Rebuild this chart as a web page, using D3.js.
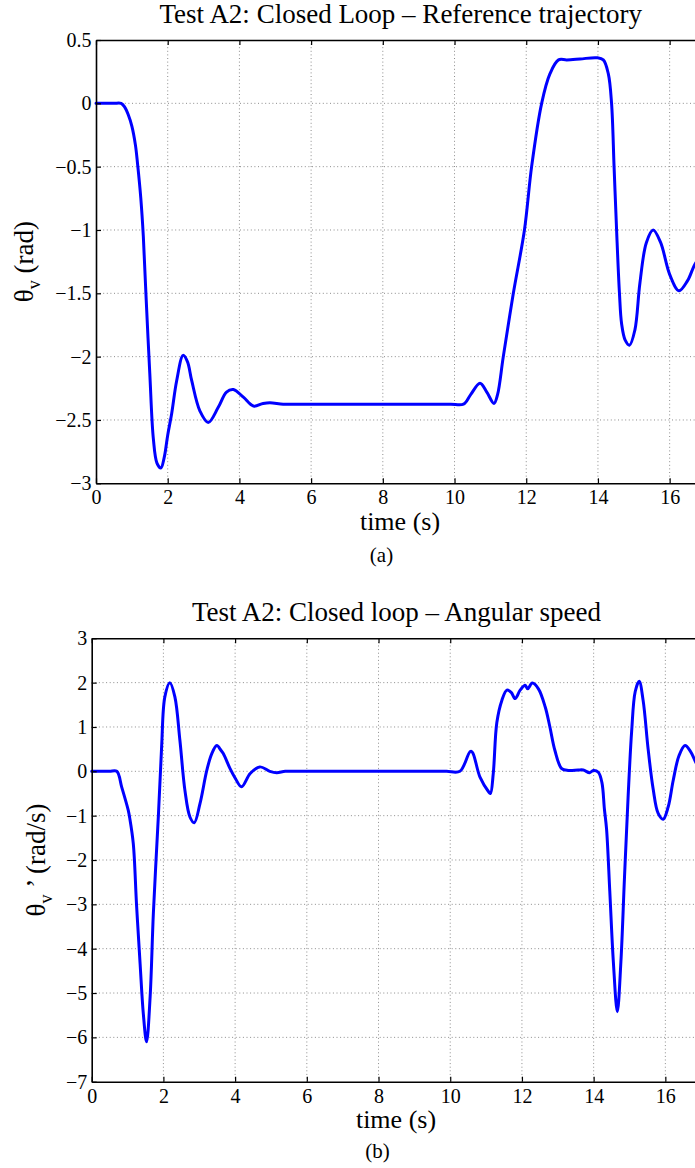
<!DOCTYPE html>
<html>
<head>
<meta charset="utf-8">
<script src="https://cdn.jsdelivr.net/npm/d3@7"></script>
<style>
  html, body { margin: 0; padding: 0; background: #fff; }
  svg { display: block; }
  svg text { font-family: 'Liberation Serif', 'Times New Roman', Times, serif !important; fill: #000; }
</style>
</head>
<body>
<svg id="chart" width="695" height="1168"></svg>
<script>
// ---------- data ----------
const xTicks = [0, 2, 4, 6, 8, 10, 12, 14, 16];
const xDomain = [0, 17];

const titleA = "Test A2: Closed Loop \u2013 Reference trajectory";
const titleB = "Test A2: Closed loop \u2013 Angular speed";
const xLabel = "time (s)";
const captionA = "(a)";
const captionB = "(b)";

const yTicksA = [0.5, 0, -0.5, -1, -1.5, -2, -2.5, -3];
const yDomainA = [-3, 0.5];
const yTicksB = [3, 2, 1, 0, -1, -2, -3, -4, -5, -6, -7];
const yDomainB = [-7, 3];

// Panel (a): reference trajectory theta_v (rad)
const timeA = [0, 0.25, 0.5, 0.7, 0.8, 0.9, 1.0, 1.1, 1.16, 1.25, 1.32, 1.4, 1.5, 1.6, 1.7, 1.81, 1.9, 2.0, 2.11, 2.25, 2.43, 2.55, 2.67, 2.9, 3.13, 3.41, 3.64, 3.83, 4.11, 4.39, 4.66, 4.85, 5.22, 5.6, 6, 6.5, 7, 7.5, 8, 8.5, 9, 9.5, 9.9, 10.25, 10.45, 10.71, 10.9, 11.1, 11.2, 11.36, 11.64, 11.95, 12.15, 12.43, 12.66, 12.9, 13.13, 13.5, 13.97, 14.15, 14.29, 14.38, 14.45, 14.52, 14.6, 14.66, 14.76, 14.88, 15.03, 15.17, 15.35, 15.54, 15.75, 16.0, 16.26, 16.5, 16.75, 17.0];
const thetaA = [0, 0, 0, 0, -0.03, -0.09, -0.18, -0.33, -0.48, -0.75, -1.05, -1.55, -2.13, -2.65, -2.84, -2.88, -2.8, -2.62, -2.45, -2.19, -1.99, -2.04, -2.19, -2.43, -2.52, -2.4, -2.28, -2.26, -2.32, -2.39, -2.37, -2.364, -2.375, -2.375, -2.375, -2.375, -2.375, -2.375, -2.375, -2.375, -2.375, -2.375, -2.375, -2.375, -2.3, -2.21, -2.28, -2.37, -2.3, -2.0, -1.5, -1.0, -0.5, 0, 0.232, 0.343, 0.343, 0.35, 0.36, 0.343, 0.232, 0, -0.5, -1.0, -1.5, -1.74, -1.87, -1.91, -1.79, -1.42, -1.1, -1.0, -1.1, -1.35, -1.48, -1.4, -1.25, -1.2];

// Panel (b): angular speed theta_v' (rad/s)
const timeB = [0, 0.25, 0.5, 0.7, 0.835, 1.02, 1.06, 1.16, 1.25, 1.35, 1.44, 1.53, 1.63, 1.72, 1.86, 1.95, 2.04, 2.18, 2.32, 2.46, 2.6, 2.74, 2.86, 3.02, 3.21, 3.35, 3.49, 3.6, 3.67, 3.86, 4.0, 4.18, 4.42, 4.69, 4.97, 5.16, 5.4, 5.8, 6.2, 6.6, 7, 7.5, 8, 8.5, 9, 9.5, 9.9, 10.27, 10.58, 10.83, 11.06, 11.12, 11.2, 11.3, 11.44, 11.58, 11.7, 11.81, 11.95, 12.09, 12.16, 12.29, 12.46, 12.65, 12.78, 12.92, 13.11, 13.3, 13.57, 13.71, 13.89, 13.99, 14.13, 14.23, 14.3, 14.36, 14.45, 14.55, 14.66, 14.76, 14.86, 14.96, 15.06, 15.16, 15.27, 15.38, 15.52, 15.66, 15.8, 15.94, 16.08, 16.22, 16.38, 16.55, 16.7, 16.85, 17.0];
const omegaB = [0, 0, 0, 0, -0.35, -0.88, -1.05, -1.63, -3.0, -4.34, -5.47, -6.1, -5.08, -3.2, -1.0, 0.55, 1.68, 2.0, 1.68, 0.7, -0.43, -1.03, -1.16, -0.73, 0.02, 0.4, 0.58, 0.48, 0.4, 0.06, -0.15, -0.35, -0.05, 0.1, 0, -0.03, 0, 0, 0, 0, 0, 0, 0, 0, 0, 0, 0, 0, 0.45, -0.13, -0.45, -0.5, -0.05, 1.1, 1.6, 1.83, 1.78, 1.64, 1.83, 1.94, 1.86, 1.99, 1.86, 1.45, 1.0, 0.47, 0.06, 0.02, 0.03, 0.03, -0.03, 0.02, -0.02, -0.25, -0.85, -1.3, -2.7, -4.3, -5.42, -4.3, -2.4, -0.6, 0.9, 1.8, 2.03, 1.6, 0.5, -0.4, -0.95, -1.08, -0.8, -0.2, 0.35, 0.58, 0.45, 0.2, -0.05];

// ---------- drawing ----------
const svg = d3.select("#chart");
const FONT = "'Liberation Serif', 'Times New Roman', Times, serif";
const fmt = d => (d < 0 ? "\u2212" : "") + String(Math.abs(d));

function panel(cfg) {
  const g = svg.append("g").attr("transform", `translate(${cfg.left},${cfg.top})`);
  const w = cfg.width, h = cfg.height;
  const x = d3.scaleLinear().domain(xDomain).range([0, w]);
  const y = d3.scaleLinear().domain(cfg.yDomain).range([h, 0]);

  // grid
  const grid = g.append("g").attr("stroke", "#8c8c8c").attr("stroke-width", 1)
    .attr("stroke-dasharray", "1,2.6");
  grid.selectAll(".gx").data(xTicks.filter(d => d > xDomain[0] && d < xDomain[1]))
    .enter().append("line")
    .attr("x1", d => x(d)).attr("x2", d => x(d)).attr("y1", 0).attr("y2", h);
  grid.selectAll(".gy").data(cfg.yTicks.filter(d => d > cfg.yDomain[0] && d < cfg.yDomain[1]))
    .enter().append("line")
    .attr("y1", d => y(d)).attr("y2", d => y(d)).attr("x1", 0).attr("x2", w);

  // data line
  const pts = cfg.t.map((t, i) => [t, cfg.v[i]]);
  g.append("path").datum(pts)
    .attr("fill", "none").attr("stroke", "#0000ff").attr("stroke-width", 3)
    .attr("stroke-linejoin", "round").attr("stroke-linecap", "round")
    .attr("d", d3.line().x(d => x(d[0])).y(d => y(d[1])).curve(d3.curveCatmullRom.alpha(0.5)));

  // axes
  const xa = g.append("g").attr("transform", `translate(0,${h})`)
    .call(d3.axisBottom(x).tickValues(xTicks).tickFormat(fmt).tickSize(-5).tickPadding(7).tickSizeOuter(0));
  const xt = g.append("g")
    .call(d3.axisTop(x).tickValues(xTicks).tickFormat("").tickSize(-5).tickSizeOuter(0));
  const ya = g.append("g")
    .call(d3.axisLeft(y).tickValues(cfg.yTicks).tickFormat(fmt).tickSize(-5).tickPadding(4.5).tickSizeOuter(0));
  const yr = g.append("g").attr("transform", `translate(${w},0)`)
    .call(d3.axisRight(y).tickValues(cfg.yTicks).tickFormat("").tickSize(-5).tickSizeOuter(0));
  [xa, xt, ya, yr].forEach(a => {
    a.attr("font-family", FONT).attr("font-size", 20);
    a.selectAll(".domain").attr("stroke", "#000").attr("stroke-width", 1.6);
    a.selectAll(".tick line").attr("stroke", "#000").attr("stroke-width", 1.2);
    a.selectAll("text").style("font-family", FONT).attr("font-size", 20).attr("fill", "#000");
  });

  // title
  svg.append("text").attr("x", cfg.left + w / 2).attr("y", cfg.titleY)
    .attr("text-anchor", "middle").attr("font-size", 27).style("font-family", FONT).text(cfg.title);
  // x label
  svg.append("text").attr("x", cfg.xlabX).attr("y", cfg.xlabY)
    .attr("text-anchor", "middle").attr("font-size", 26).style("font-family", FONT).text(xLabel);
  // y label
  const yl = svg.append("text")
    .attr("transform", `translate(${cfg.ylabX},${cfg.top + h / 2}) rotate(-90)`)
    .attr("text-anchor", "middle").attr("font-size", 27).style("font-family", FONT);
  yl.append("tspan").text("\u03b8");
  yl.append("tspan").attr("font-size", 18).attr("dy", 7).text("v");
  yl.append("tspan").attr("dy", -7).text(cfg.ylabRest);
  // caption
  svg.append("text").attr("x", cfg.capX).attr("y", cfg.capY)
    .attr("text-anchor", "middle").attr("font-size", 21).style("font-family", FONT).text(cfg.caption);
}

panel({
  left: 96, top: 40, width: 609.5, height: 443.3,
  yDomain: yDomainA, yTicks: yTicksA, t: timeA, v: thetaA,
  title: titleA, titleY: 23, xlabX: 400, xlabY: 530,
  ylabX: 33, ylabRest: " (rad)", caption: captionA, capX: 381.5, capY: 562
});
panel({
  left: 91.7, top: 638.3, width: 609.5, height: 443.4,
  yDomain: yDomainB, yTicks: yTicksB, t: timeB, v: omegaB,
  title: titleB, titleY: 621, xlabX: 396, xlabY: 1128,
  ylabX: 45, ylabRest: " \u2019 (rad/s)", caption: captionB, capX: 377.5, capY: 1158
});
</script>
</body>
</html>
